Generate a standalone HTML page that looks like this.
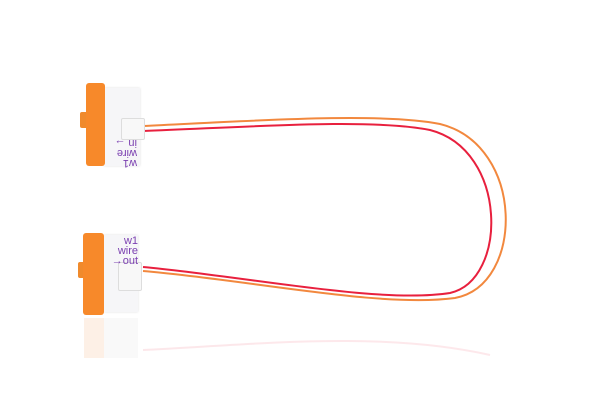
<!DOCTYPE html>
<html><head><style>
body{margin:0;width:600px;height:400px;background:#fff;overflow:hidden;position:relative;font-family:"Liberation Sans",sans-serif}
.a{position:absolute}
</style></head><body>
<svg class="a" style="left:0;top:0" width="600" height="400">
<g fill="none" stroke-width="2">
<path d="M143 126 C250 121 380 112 440 124 C525 145 525 285 455 298 C380 308 250 280 143 271" stroke="#f2883e"/>
<path d="M143 131 C250 127 370 118 430 130 C508 150 508 280 450 293 C380 304 250 277 143 267" stroke="#e8203e"/>
</g>
<g opacity="0.1">
<rect x="84" y="318" width="20" height="40" fill="#f07a1a"/>
<rect x="104" y="318" width="34" height="40" fill="#ccc"/>
<path d="M143 350 C250 345 380 330 490 355" stroke="#e8203e" fill="none" stroke-width="2"/>
</g>
</svg>
<div class="a" style="left:80px;top:112px;width:8px;height:16px;background:#f08a2c;border-radius:2px"></div>
<div class="a" style="left:104px;top:88px;width:36px;height:78px;background:#f6f6f8;box-shadow:0 0 2px #ddd"></div>
<div class="a" style="left:86px;top:83px;width:19px;height:83px;background:#f7892a;border-radius:3px"></div>
<div class="a" style="left:121px;top:118px;width:22px;height:20px;background:#f8f8f8;border:1px solid #ddd;border-radius:2px"></div>
<div class="a" style="left:105px;top:138px;font-size:11px;color:#7a3fb0;transform:rotate(180deg);line-height:10px;text-align:left;width:32px">w1<br>wire<br>in →</div>
<div class="a" style="left:78px;top:262px;width:8px;height:16px;background:#f08a2c;border-radius:2px"></div>
<div class="a" style="left:104px;top:235px;width:34px;height:77px;background:#f6f6f8;box-shadow:0 0 2px #ddd"></div>
<div class="a" style="left:83px;top:233px;width:21px;height:82px;background:#f7892a;border-radius:3px"></div>
<div class="a" style="left:118px;top:262px;width:22px;height:27px;background:#f8f8f8;border:1px solid #ddd;border-radius:2px"></div>
<div class="a" style="left:106px;top:236px;font-size:11px;color:#7a3fb0;line-height:10px;width:32px;text-align:right">w1<br>wire<br>→out</div>
</body></html>
